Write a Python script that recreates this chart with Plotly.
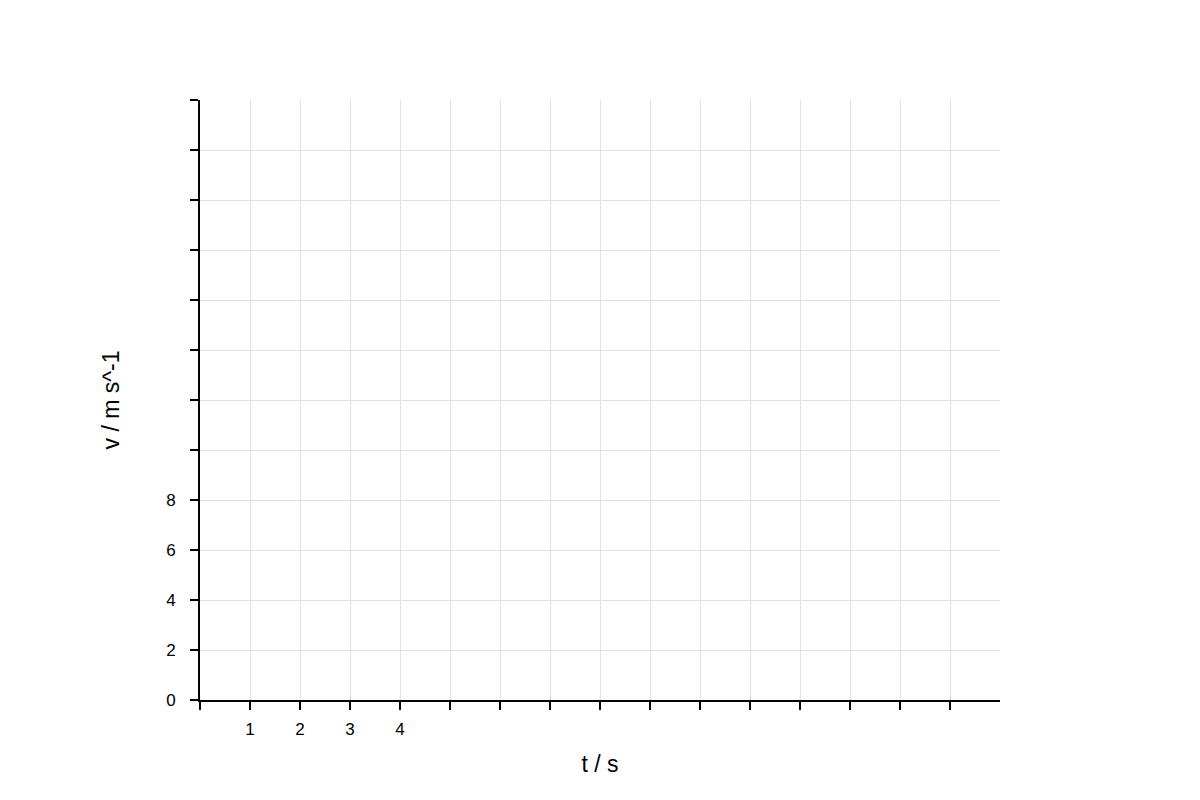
import plotly.graph_objects as go

# axis ticks (only the first few carry labels)
t_ticks = list(range(0, 16))
t_labels = ["", "1", "2", "3", "4"] + [""] * 11
v_ticks = list(range(0, 25, 2))
v_labels = ["0", "2", "4", "6", "8"] + [""] * 8

# no measurements plotted yet
t_data = []
v_data = []

fig = go.Figure()
fig.add_trace(go.Scatter(x=t_data, y=v_data, mode="markers", showlegend=False))

axis_style = dict(
    showline=True,
    linecolor="black",
    linewidth=2,
    ticks="outside",
    ticklen=8,
    tickwidth=2,
    tickcolor="black",
    showgrid=True,
    gridcolor="#e2e2e2",
    gridwidth=1,
    zeroline=False,
    tickfont=dict(size=17, color="black"),
    title_font=dict(size=23, color="black"),
)

fig.update_xaxes(
    range=[0, 16],
    tickmode="array",
    tickvals=t_ticks,
    ticktext=t_labels,
    ticklabelstandoff=5,
    title_text="t / s",
    title_standoff=17,
    **axis_style,
)
fig.update_yaxes(
    range=[0, 24],
    tickmode="array",
    tickvals=v_ticks,
    ticktext=v_labels,
    ticklabelstandoff=11,
    title_text="v / m s^-1",
    title_standoff=40,
    **axis_style,
)

# page body adds 8px, so margins are shifted to keep the plot at 200..1000 / 100..700
fig.update_layout(
    width=1200,
    height=800,
    margin=dict(l=192, r=208, t=92, b=108),
    plot_bgcolor="white",
    paper_bgcolor="white",
    font=dict(family="Liberation Sans, Arial, sans-serif", color="black"),
)

fig.write_html("out.html")
